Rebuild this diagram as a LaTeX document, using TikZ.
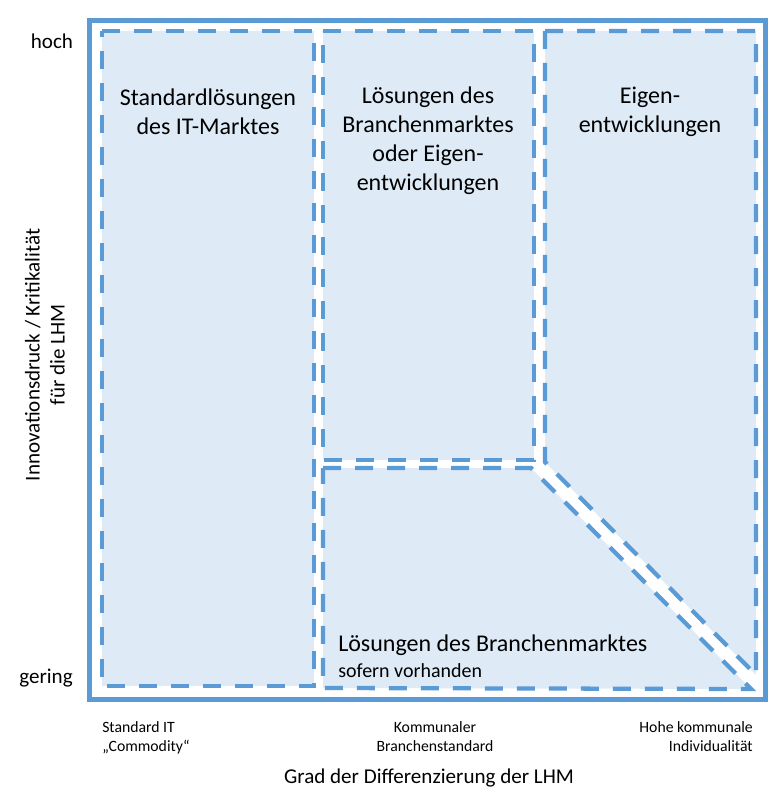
\documentclass[tikz,border=0pt]{standalone}
\usepackage{fontspec}
\setmainfont{Carlito}
\definecolor{frameblue}{HTML}{5B9BD5}
\definecolor{areafill}{HTML}{DEEBF7}
\begin{document}
\begin{tikzpicture}[x=0.75pt,y=-0.75pt,
  area/.style={fill=areafill,draw=frameblue,line width=3.2pt,dash pattern=on 13.5pt off 10.5pt,line join=miter},
  maintext/.style={font=\fontsize{18}{21.75}\selectfont,align=center,inner sep=0pt},
  axistext/.style={font=\fontsize{15.8}{18.75}\selectfont,inner sep=0pt},
  ticktext/.style={font=\fontsize{11.8}{14.2}\selectfont,inner sep=0pt}]
\useasboundingbox (0,0) rectangle (782,796);
\fill[white] (0,0) rectangle (782,796);

% outer frame
\draw[frameblue,line width=3.75pt] (89,20) rectangle (765,699);

% the four fields
\path[area] (102,31) -- (314,31) -- (314,686) -- (102,686) -- cycle;
\path[area] (323,31) -- (534,31) -- (534,460) -- (323,460) -- cycle;
\path[area] (545,31) -- (756,31) -- (756,675) -- (545,462) -- cycle;
\path[area] (323,468) -- (531,468) -- (751,689) -- (323,688) -- cycle;

% field labels
\node[maintext] (std) at (208,112) {Standardlösungen\\des IT-Marktes};
\node[maintext] (branche) at (428,141) {Lösungen des\\Branchenmarktes\\oder Eigen-\\entwicklungen};
\node[maintext] (eigen) at (650,112) {Eigen-\\entwicklungen};
\node[maintext,anchor=west] (brstd) at (338,645) {Lösungen des Branchenmarktes};
\node[font=\fontsize{15}{18}\selectfont,inner sep=0pt,anchor=west] (sofern) at (338,671) {sofern vorhanden};

% vertical axis
\node[axistext] (hoch) at (52,41) {hoch};
\node[axistext] (gering) at (46,678) {gering};
\node[axistext,align=center,rotate=90] (yaxis) at (45,355) {Innovationsdruck / Kritikalität\\für die LHM};

% horizontal axis
\node[ticktext,align=left,anchor=west] (commodity) at (102,738) {Standard IT\\„Commodity“};
\node[ticktext,align=center] (kommunal) at (435,737) {Kommunaler\\Branchenstandard};
\node[ticktext,align=right,anchor=east] (individuell) at (753,737) {Hohe kommunale\\Individualität};
\node[axistext] (xaxis) at (429,778) {Grad der Differenzierung der LHM};
\end{tikzpicture}
\end{document}
